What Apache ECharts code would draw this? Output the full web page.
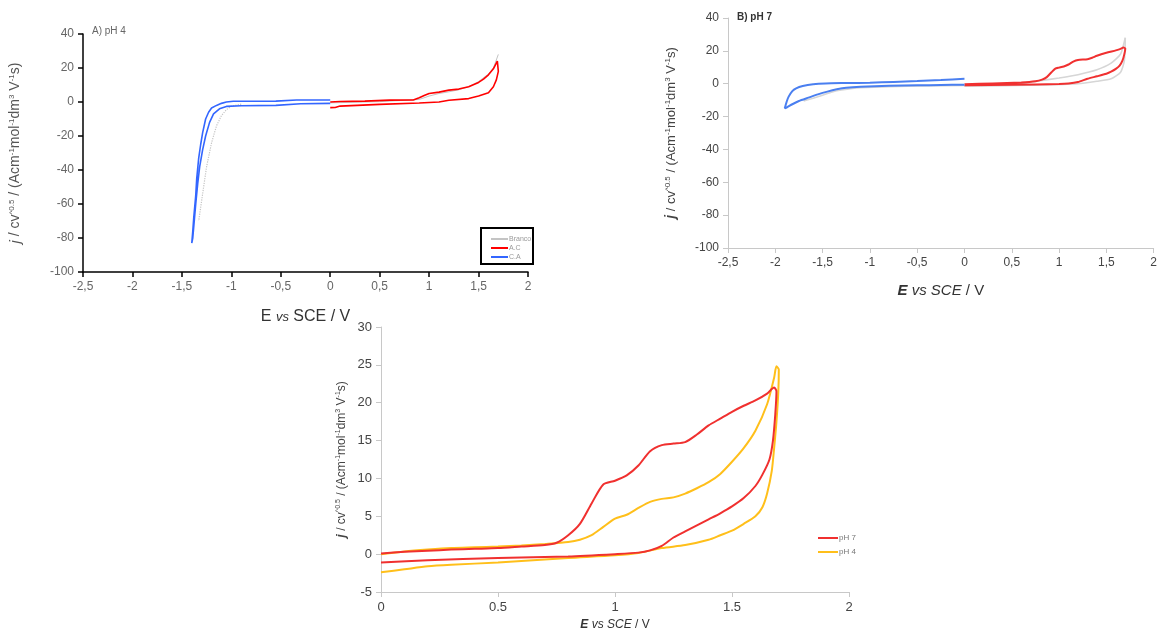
<!DOCTYPE html>
<html>
<head>
<meta charset="utf-8">
<script src="https://cdn.jsdelivr.net/npm/echarts@6/dist/echarts.min.js"></script>
<style>html,body{margin:0;padding:0;background:#fff}#c{width:1160px;height:632px}</style>
</head>
<body>
<div id="c"></div>
<script>
// ---------- Panel A (pH 4, full range) ----------
const aBlankAnodic = [[0,-0.5],[0.5,0.2],[0.9,1.5],[1.0,3.5],[1.1,5],[1.2,6],[1.3,7.2],[1.4,9],[1.5,12],[1.6,16.5],[1.65,20],[1.7,28]];
const aBlankCathodic = [[-0.9,-1.2],[-1.0,-2.5],[-1.05,-4.5],[-1.1,-8],[-1.15,-14],[-1.2,-24],[-1.25,-38],[-1.28,-50],[-1.31,-62],[-1.33,-70]];
const aAC = [[0,0],[0.1,0.3],[0.35,0.5],[0.36,1.0],[0.6,1.1],[0.84,1.2],[0.9,2.5],[0.95,3.8],[1.0,5.0],[1.1,5.8],[1.2,7.0],[1.3,7.6],[1.4,9.0],[1.5,11.5],[1.55,13.5],[1.6,16],[1.65,19.5],[1.69,24],[1.7,25],[1.71,23],[1.7,18],[1.68,13],[1.65,9],[1.6,5.5],[1.5,3.5],[1.4,2.0],[1.2,1.0],[1.1,0.0],[0.9,-0.6],[0.5,-1.4],[0.1,-2.4],[0.05,-3.2],[0,-3.3]];
const aCA = [[0,1.2],[-0.34,1.2],[-0.35,0.6],[-0.55,0.5],[-0.98,0.4],[-1.05,0],[-1.1,-0.8],[-1.15,-2],[-1.2,-3.5],[-1.23,-6],[-1.26,-10],[-1.29,-18],[-1.31,-25],[-1.33,-33],[-1.35,-45],[-1.36,-55],[-1.38,-68],[-1.39,-76],[-1.4,-83],[-1.39,-80],[-1.375,-70],[-1.36,-60],[-1.34,-48],[-1.32,-38],[-1.29,-28],[-1.26,-20],[-1.22,-12],[-1.18,-7],[-1.12,-4],[-1.05,-2.6],[-0.9,-2.2],[-0.55,-2.0],[-0.54,-1.2],[-0.3,-1.0],[0,-0.8]];

// ---------- Panel B (pH 7, full range) ----------
const bBlank1 = [[-1.7,-10.5],[-1.6,-8.8],[-1.5,-7],[-1.4,-5],[-1.3,-3.8],[-1.1,-2.4],[-0.8,-1.8],[-0.4,-1.4],[0,-1.1],[0.5,-0.4],[0.8,1.8],[1.0,3.5],[1.2,5.5],[1.4,8.5],[1.55,12.5],[1.65,18],[1.7,28]];
const bBlank2 = [[1.7,28],[1.69,14],[1.65,7],[1.55,3],[1.4,1.5],[1.2,0],[0.8,-0.8],[0,-1.5]];
const bAC = [[0,-0.3],[0.3,0.2],[0.6,0.8],[0.75,1.5],[0.82,2.5],[0.87,4],[0.92,7],[0.96,9.2],[1.0,9.8],[1.05,10.5],[1.1,11.7],[1.15,13.5],[1.2,14.5],[1.3,14.9],[1.35,15.8],[1.4,17],[1.5,18.8],[1.6,20.3],[1.65,21.2],[1.68,22],[1.7,21.5],[1.69,18],[1.67,14],[1.64,11],[1.6,9],[1.55,7.3],[1.5,6.1],[1.4,4.5],[1.3,3],[1.2,1.0],[1.1,0.1],[1.0,-0.2],[0.5,-0.6],[0,-0.9]];
const bCA = [[0,3.0],[-0.25,2.2],[-0.5,1.6],[-0.75,1.1],[-1.0,0.6],[-1.25,0.4],[-1.47,0.2],[-1.6,-0.3],[-1.71,-1.4],[-1.78,-2.8],[-1.82,-4.5],[-1.86,-8],[-1.88,-11],[-1.9,-15],[-1.88,-14.5],[-1.82,-12.5],[-1.75,-10.5],[-1.65,-8.5],[-1.55,-6.5],[-1.45,-4.8],[-1.35,-3.4],[-1.25,-2.4],[-1.1,-1.8],[-0.8,-1.3],[-0.5,-1.0],[-0.25,-0.8],[0,-0.6]];

// ---------- Panel C (comparison 0 - 1.7 V) ----------
const cPH7 = [[0,0.1],[0.1,0.3],[0.2,0.45],[0.3,0.6],[0.4,0.7],[0.5,0.8],[0.6,1.0],[0.7,1.2],[0.75,1.5],[0.8,2.5],[0.85,4.0],[0.9,6.7],[0.95,9.2],[1.0,9.7],[1.05,10.4],[1.1,11.7],[1.15,13.6],[1.2,14.4],[1.25,14.6],[1.3,14.8],[1.35,15.8],[1.4,17.0],[1.45,17.9],[1.5,18.8],[1.55,19.6],[1.6,20.3],[1.65,21.2],[1.68,22.0],[1.69,21.5],[1.685,18.5],[1.675,15.0],[1.66,12.5],[1.63,10.5],[1.6,9.0],[1.55,7.4],[1.5,6.3],[1.45,5.4],[1.4,4.6],[1.35,3.8],[1.3,3.0],[1.25,2.2],[1.2,1.1],[1.15,0.5],[1.1,0.2],[1.0,0],[0.8,-0.3],[0.5,-0.5],[0.2,-0.8],[0,-1.1]];
const cPH4 = [[0,0],[0.1,0.35],[0.2,0.6],[0.3,0.8],[0.4,0.9],[0.5,1.0],[0.6,1.15],[0.7,1.35],[0.8,1.6],[0.85,1.9],[0.9,2.5],[0.95,3.6],[1.0,4.7],[1.05,5.2],[1.1,6.1],[1.15,6.9],[1.2,7.3],[1.25,7.5],[1.3,8.0],[1.35,8.7],[1.4,9.5],[1.45,10.6],[1.5,12.2],[1.55,14.0],[1.6,16.3],[1.65,19.8],[1.68,23.3],[1.69,24.8],[1.7,24.4],[1.698,21.5],[1.69,17.5],[1.68,14.0],[1.67,11.0],[1.65,8.0],[1.63,6.2],[1.6,5.0],[1.55,4.0],[1.5,3.1],[1.45,2.5],[1.4,1.9],[1.3,1.2],[1.2,0.8],[1.1,0.15],[1.0,-0.15],[0.8,-0.5],[0.5,-1.1],[0.3,-1.4],[0.2,-1.6],[0.1,-2.0],[0,-2.4]];

// ---------- tick / label settings ----------
const fullXMin = -2.5, fullXMax = 2, fullYMin = -100, fullYMax = 40;
const cXMin = 0, cXMax = 2, cYMin = -5, cYMax = 30;
const legendA = ['Branco', 'A.C', 'C.A'];
const legendC = ['pH 7', 'pH 4'];

const FONT = '"Liberation Sans", Arial, sans-serif';
const comma = v => String(v).replace('.', ',');

function yName(size, boldJ) {
  return {
    text: '{j|j} / cv{s|^0.5} / (Acm{s|-1}mol{s|-1}dm{s|3} V{s|-1}s)',
    rich: {
      j: {fontSize: size + 1, fontStyle: 'italic', fontWeight: boldJ ? 'bold' : 'normal', fontFamily: FONT},
      s: {fontSize: Math.round(size * 0.6), verticalAlign: 'top', fontFamily: FONT}
    }
  };
}

function axisX(gi, min, max, interval, opts) {
  return Object.assign({
    type: 'value', gridIndex: gi, min, max, interval,
    splitLine: {show: false},
    axisLine: {onZero: false, lineStyle: {color: opts.lineColor, width: opts.lineWidth}},
    axisTick: {show: true, inside: false, length: 5, lineStyle: {color: opts.lineColor, width: opts.lineWidth}},
    axisLabel: {color: opts.labelColor, fontSize: opts.fontSize, fontFamily: FONT, margin: 9, formatter: opts.fmt}
  }, opts.extra || {});
}
function axisY(gi, min, max, interval, opts) {
  return Object.assign({
    type: 'value', gridIndex: gi, min, max, interval,
    splitLine: {show: false},
    axisLine: {show: true, onZero: false, lineStyle: {color: opts.lineColor, width: opts.lineWidth}},
    axisTick: {show: true, inside: false, length: 5, lineStyle: {color: opts.lineColor, width: opts.lineWidth}},
    axisLabel: {color: opts.labelColor, fontSize: opts.fontSize, fontFamily: FONT, margin: 9, formatter: opts.fmt}
  }, opts.extra || {});
}

const ynA = yName(14, false), ynB = yName(13, true), ynC = yName(12, true);

function line(name, data, xi, color, width, extra) {
  return Object.assign({
    name, type: 'line', data, xAxisIndex: xi, yAxisIndex: xi,
    symbol: 'none', showSymbol: false, animation: false,
    lineStyle: {color, width}, itemStyle: {color}, silent: true
  }, extra || {});
}

const option = {
  animation: false,
  backgroundColor: '#fff',
  textStyle: {fontFamily: FONT},
  grid: [
    {left: 83, top: 34, width: 445, height: 238},
    {left: 728, top: 18, width: 427, height: 230},
    {left: 381, top: 327, width: 468, height: 265}
  ],
  xAxis: [
    axisX(0, fullXMin, fullXMax, 0.5, {lineColor: '#000', lineWidth: 1.5, labelColor: '#666', fontSize: 12, fmt: comma,
      extra: {name: 'E {i|vs} SCE / V', nameLocation: 'middle', nameGap: 37,
        nameTextStyle: {fontSize: 16, color: '#333', fontFamily: FONT, rich: {i: {fontSize: 13, fontStyle: 'italic', color: '#333', fontFamily: FONT}}}}}),
    axisX(1, fullXMin, fullXMax, 0.5, {lineColor: '#c8c8c8', lineWidth: 1, labelColor: '#444', fontSize: 12, fmt: comma,
      extra: {name: '{b|E} {i|vs SCE} / V', nameLocation: 'middle', nameGap: 35,
        nameTextStyle: {fontSize: 15, color: '#333', fontFamily: FONT, rich: {b: {fontSize: 15, fontWeight: 'bold', fontStyle: 'italic', color: '#333', fontFamily: FONT}, i: {fontSize: 15, fontStyle: 'italic', color: '#333', fontFamily: FONT}}}}}),
    axisX(2, cXMin, cXMax, 0.5, {lineColor: '#c8c8c8', lineWidth: 1, labelColor: '#444', fontSize: 13, fmt: v => String(v),
      extra: {name: '{b|E} {i|vs SCE} / V', nameLocation: 'middle', nameGap: 27,
        nameTextStyle: {fontSize: 12, color: '#333', fontFamily: FONT, rich: {b: {fontSize: 12, fontWeight: 'bold', fontStyle: 'italic', color: '#333', fontFamily: FONT}, i: {fontSize: 12, fontStyle: 'italic', color: '#333', fontFamily: FONT}}}}})
  ],
  yAxis: [
    axisY(0, fullYMin, fullYMax, 20, {lineColor: '#000', lineWidth: 1.5, labelColor: '#666', fontSize: 12, fmt: v => String(v),
      extra: {name: ynA.text, nameLocation: 'middle', nameGap: 60, nameRotate: 90,
        nameTextStyle: {fontSize: 14, color: '#555', fontFamily: FONT, rich: ynA.rich}}}),
    axisY(1, fullYMin, fullYMax, 20, {lineColor: '#c8c8c8', lineWidth: 1, labelColor: '#444', fontSize: 12, fmt: v => String(v),
      extra: {name: ynB.text, nameLocation: 'middle', nameGap: 50, nameRotate: 90,
        nameTextStyle: {fontSize: 13, color: '#444', fontFamily: FONT, rich: ynB.rich}}}),
    axisY(2, cYMin, cYMax, 5, {lineColor: '#c8c8c8', lineWidth: 1, labelColor: '#444', fontSize: 13, fmt: v => String(v),
      extra: {name: ynC.text, nameLocation: 'middle', nameGap: 33, nameRotate: 90,
        nameTextStyle: {fontSize: 12, color: '#444', fontFamily: FONT, rich: ynC.rich}}})
  ],
  legend: [
    {data: legendA, orient: 'vertical', left: 486, top: 230, icon: 'rect', itemWidth: 17, itemHeight: 2, itemGap: 1,
      textStyle: {fontSize: 7, lineHeight: 8, color: '#999', fontFamily: FONT, padding: [0, 0, 0, -4]}, selectedMode: false},
    {data: legendC, orient: 'vertical', left: 813, top: 528, icon: 'rect', itemWidth: 20, itemHeight: 2, itemGap: 4,
      textStyle: {fontSize: 8, lineHeight: 10, color: '#777', fontFamily: FONT, padding: [0, 0, 0, -4]}, selectedMode: false}
  ],
  graphic: [
    {type: 'rect', shape: {x: 481, y: 228, width: 52, height: 36}, style: {fill: 'none', stroke: '#000', lineWidth: 2}, silent: true},
    {type: 'text', left: 92, top: 26, style: {text: 'A) pH 4', fontSize: 10, fill: '#666', fontFamily: FONT}},
    {type: 'text', left: 737, top: 12, style: {text: 'B) pH 7', fontSize: 10, fontWeight: 'bold', fill: '#333', fontFamily: FONT}}
  ],
  series: [
    line('Branco', aBlankAnodic, 0, '#c4c4c4', 1),
    line('Branco', aBlankCathodic, 0, '#c4c4c4', 1, {lineStyle: {color: '#c4c4c4', width: 1.2, type: 'dotted'}}),
    line('A.C', aAC, 0, '#ff0000', 1.6),
    line('C.A', aCA, 0, '#3366ff', 1.6),
    line('B blank', bBlank1, 1, '#d6d6d6', 1.6, {smooth: 0.2}),
    line('B blank', bBlank2, 1, '#d6d6d6', 1.6, {smooth: 0.2}),
    line('B A.C', bAC, 1, '#f03030', 2, {smooth: 0.2}),
    line('B C.A', bCA, 1, '#4a7ff0', 2, {smooth: 0.2}),
    line('pH 4', cPH4, 2, '#ffbf1a', 2, {smooth: 0.25}),
    line('pH 7', cPH7, 2, '#f0302f', 2, {smooth: 0.25})
  ]
};

const chart = echarts.init(document.getElementById('c'), null, {renderer: 'canvas'});
chart.setOption(option);
</script>
</body>
</html>
